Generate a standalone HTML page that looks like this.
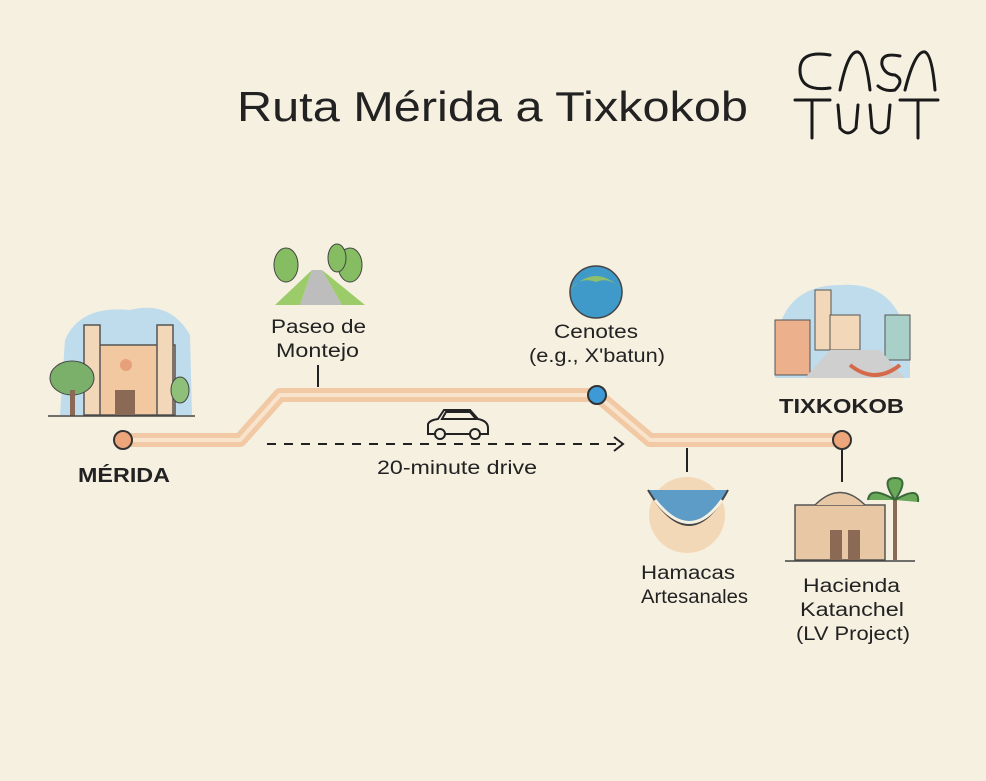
<!DOCTYPE html>
<html><head><meta charset="utf-8"><style>
body{margin:0;background:#f6f0e1;}
svg{display:block}
text{font-family:"Liberation Sans",sans-serif;fill:#222}
</style></head><body>
<svg width="986" height="781" viewBox="0 0 986 781" xmlns="http://www.w3.org/2000/svg">
<rect width="986" height="781" fill="#f6f0e1"/>
<text x="237" y="121" font-size="42" fill="#1f1f1f" textLength="511" lengthAdjust="spacingAndGlyphs">Ruta Mérida a Tixkokob</text>
<g fill="none" stroke="#1a1a1a" stroke-width="3" stroke-linecap="round">
<path d="M830 55 Q800 50 800 70 Q800 92 830 88"/>
<path d="M840 90 Q848 50 858 52 Q866 55 870 90"/>
<path d="M900 56 Q880 52 882 65 Q885 75 895 75 Q905 80 895 90 Q885 92 878 86"/>
<path d="M905 90 Q915 50 925 52 Q932 55 935 90"/>
<path d="M795 100 L830 100 M812 100 L812 138"/>
<path d="M838 105 L840 128 Q848 138 856 128 L858 105"/>
<path d="M870 105 L872 128 Q880 138 888 128 L890 105"/>
<path d="M900 100 L938 100 M918 100 L918 138"/>
</g>
<g fill="none" stroke-linejoin="round">
<path d="M123 440 L240 440 L280 395 L597 395 L650 440 L842 440" stroke="#f1c9a4" stroke-width="14"/>
<path d="M123 440 L240 440 L280 395 L597 395 L650 440 L842 440" stroke="#f8e4cc" stroke-width="4"/>
</g>
<line x1="318" y1="365" x2="318" y2="387" stroke="#222" stroke-width="2"/>
<line x1="687" y1="448" x2="687" y2="472" stroke="#222" stroke-width="2"/>
<line x1="842" y1="448" x2="842" y2="482" stroke="#222" stroke-width="2"/>
<circle cx="123" cy="440" r="9" fill="#eda57b" stroke="#333" stroke-width="2"/>
<circle cx="597" cy="395" r="9" fill="#3d9ad6" stroke="#333" stroke-width="2"/>
<circle cx="842" cy="440" r="9" fill="#eda57b" stroke="#333" stroke-width="2"/>
<line x1="267" y1="444" x2="620" y2="444" stroke="#222" stroke-width="2" stroke-dasharray="9 8"/>
<path d="M614 437 L623 444 L614 451" fill="none" stroke="#222" stroke-width="2"/>
<g fill="none" stroke="#222" stroke-width="2">
<path d="M428 434 L428 424 Q430 420 438 419 L444 410 L470 410 L478 419 Q488 421 488 428 L488 434 Z"/>
<path d="M446 412 L442 419 L476 419 L470 412 Z"/>
<circle cx="440" cy="434" r="5" fill="#f6f0e1"/><circle cx="475" cy="434" r="5" fill="#f6f0e1"/>
</g>
<text x="377" y="474" font-size="19" textLength="160" lengthAdjust="spacingAndGlyphs">20-minute drive</text>
<text x="78" y="482" font-size="20" font-weight="bold" textLength="92" lengthAdjust="spacingAndGlyphs">MÉRIDA</text>
<text x="779" y="413" font-size="20" font-weight="bold" textLength="125" lengthAdjust="spacingAndGlyphs">TIXKOKOB</text>
<text x="271" y="333" font-size="19" textLength="95" lengthAdjust="spacingAndGlyphs">Paseo de</text>
<text x="276" y="357" font-size="19" textLength="83" lengthAdjust="spacingAndGlyphs">Montejo</text>
<text x="554" y="338" font-size="19" textLength="84" lengthAdjust="spacingAndGlyphs">Cenotes</text>
<text x="529" y="362" font-size="19" textLength="136" lengthAdjust="spacingAndGlyphs">(e.g., X'batun)</text>
<text x="641" y="579" font-size="19" textLength="94" lengthAdjust="spacingAndGlyphs">Hamacas</text>
<text x="641" y="603" font-size="19" textLength="107" lengthAdjust="spacingAndGlyphs">Artesanales</text>
<text x="803" y="592" font-size="19" textLength="97" lengthAdjust="spacingAndGlyphs">Hacienda</text>
<text x="800" y="616" font-size="19" textLength="104" lengthAdjust="spacingAndGlyphs">Katanchel</text>
<text x="796" y="640" font-size="19" textLength="114" lengthAdjust="spacingAndGlyphs">(LV Project)</text>
<path d="M65 340 Q80 305 130 310 Q170 300 190 335 L192 415 L60 415 Z" fill="#bfdcec"/>
<rect x="85" y="345" width="90" height="70" fill="#f2c8a0" stroke="#555" stroke-width="1.5"/>
<rect x="84" y="325" width="16" height="90" fill="#f2d8b8" stroke="#555" stroke-width="1.5"/>
<rect x="157" y="325" width="16" height="90" fill="#f2d8b8" stroke="#555" stroke-width="1.5"/>
<rect x="115" y="390" width="20" height="25" fill="#8a6a55"/>
<circle cx="126" cy="365" r="6" fill="#e7a07a"/>
<ellipse cx="72" cy="378" rx="22" ry="17" fill="#7ab06a" stroke="#444"/>
<rect x="70" y="390" width="5" height="26" fill="#8a6a55"/>
<ellipse cx="180" cy="390" rx="9" ry="13" fill="#8fc07a" stroke="#444"/>
<line x1="48" y1="416" x2="195" y2="416" stroke="#444" stroke-width="1.5"/>
<path d="M300 305 L312 270 L322 270 L342 305 Z" fill="#bdbdbd"/>
<path d="M275 305 L300 305 L312 270 Z M342 305 L365 305 L322 270 Z" fill="#9ccc6a"/>
<ellipse cx="286" cy="265" rx="12" ry="17" fill="#86bd62" stroke="#444"/>
<ellipse cx="350" cy="265" rx="12" ry="17" fill="#86bd62" stroke="#444"/>
<ellipse cx="337" cy="258" rx="9" ry="14" fill="#86bd62" stroke="#444"/>
<circle cx="596" cy="292" r="26" fill="#3f99c9" stroke="#444" stroke-width="1.5"/>
<path d="M570 290 Q596 262 622 290 Q610 276 596 282 Q580 276 570 290Z" fill="#8fbf6a"/>
<path d="M775 350 Q780 285 840 285 Q905 280 910 360 L910 378 L775 378 Z" fill="#bfdcec"/>
<rect x="775" y="320" width="35" height="55" fill="#ecb08c" stroke="#555"/>
<rect x="815" y="290" width="16" height="60" fill="#f2d8b8" stroke="#555"/>
<rect x="830" y="315" width="30" height="35" fill="#f2d8b8" stroke="#555"/>
<rect x="885" y="315" width="25" height="45" fill="#a8d0c8" stroke="#555"/>
<path d="M805 378 L830 350 L880 350 L905 378 Z" fill="#cfcfcf"/>
<path d="M850 365 Q875 385 900 365" fill="none" stroke="#d56a4a" stroke-width="4"/>
<circle cx="687" cy="515" r="38" fill="#f3d8b8"/>
<path d="M648 490 Q690 560 728 490" fill="#5c9cc6" stroke="#444" stroke-width="2"/>
<path d="M655 500 Q690 545 722 500" fill="none" stroke="#f6f0e1" stroke-width="3"/>
<rect x="795" y="505" width="90" height="55" fill="#e8c8a4" stroke="#555" stroke-width="1.5"/>
<path d="M815 505 Q840 480 865 505" fill="#e8c8a4" stroke="#555" stroke-width="1.5"/>
<rect x="830" y="530" width="12" height="30" fill="#8a6a55"/><rect x="848" y="530" width="12" height="30" fill="#8a6a55"/>
<rect x="893" y="500" width="4" height="60" fill="#8a6a55"/>
<path d="M895 500 Q870 485 868 500 M895 500 Q920 485 918 502 M895 500 Q880 478 895 478 Q910 478 895 500" fill="#6aa85a" stroke="#3a6a3a" stroke-width="2"/>
<line x1="785" y1="561" x2="915" y2="561" stroke="#444" stroke-width="1.5"/>
</svg>
</body></html>
